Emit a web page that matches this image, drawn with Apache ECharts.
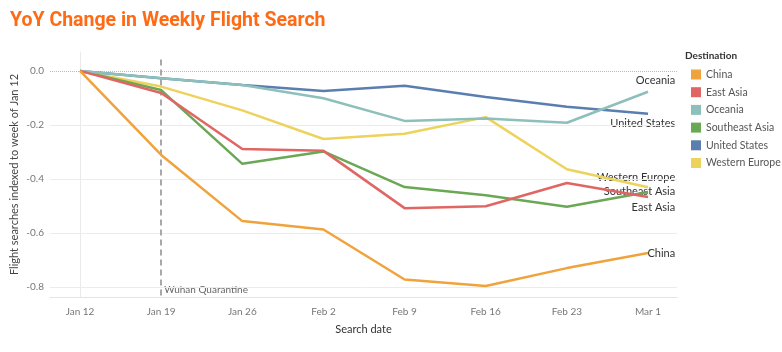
<!DOCTYPE html>
<html lang="en">
<head>
    <meta charset="UTF-8">
    <title>YoY Change in Weekly Flight Search</title>
    <style>
        html,body{margin:0;padding:0;background:#fff;}
        #chart{width:782px;height:352px;}
    </style>
</head>
<body>
    <div id="chart"></div>
    <script src="https://cdn.jsdelivr.net/npm/echarts@6/dist/echarts.min.js"></script>
    <script>
        let dates=['Jan 12','Jan 19','Jan 26','Feb 2','Feb 9','Feb 16','Feb 23','Mar 1'];
        let yTicks=[0,-0.2,-0.4,-0.6,-0.8];
        let names=['China','East Asia','Oceania','Southeast Asia','United States','Western Europe'];
        let china=[0,-0.311,-0.556,-0.587,-0.772,-0.796,-0.730,-0.674];
        let eastAsia=[0,-0.082,-0.289,-0.296,-0.508,-0.501,-0.415,-0.467];
        let oceania=[0,-0.027,-0.052,-0.101,-0.185,-0.176,-0.192,-0.077];
        let southeastAsia=[0,-0.071,-0.344,-0.298,-0.430,-0.460,-0.503,-0.448];
        let unitedStates=[0,-0.027,-0.052,-0.074,-0.055,-0.097,-0.133,-0.159];
        let westernEurope=[0,-0.058,-0.146,-0.252,-0.233,-0.171,-0.364,-0.431];
        let quarantineWeek=1;

        let values=[china,eastAsia,oceania,southeastAsia,unitedStates,westernEurope];
        let colors=['#F0A33C','#E06663','#8DC0BB','#6AA855','#5A7EAF','#EDD25C'];
        // label offset (px) of the end label, relative to last point
        let labelDy=[0,10,-11,0,10,-10];

        let chart=echarts.init(document.getElementById('chart'));
        let font='Lato';

        let series=names.map((name,i)=>{
            return {
                name,
                type:'line',
                symbol:'none',
                color:colors[i],
                lineStyle:{width:2.5},
                z:10-i,
                data:values[i].map((v,j)=>[j,v]),
            };
        });
        // gridlines + quarantine marker on an empty helper series
        series.push({
            type:'line',
            data:[],
            silent:true,
            markLine:{
                symbol:'none',
                silent:true,
                animation:false,
                label:{show:false},
                data:yTicks.map((t)=>({
                    yAxis:t,
                    lineStyle:{color:t===0?'#bbb':'#ececec',type:t===0?'dotted':'solid',width:1},
                })).concat([[
                    {coord:[quarantineWeek,0.042],lineStyle:{color:'#a8a8a8',type:[6,4],width:2}},
                    {coord:[quarantineWeek,-0.837]},
                ]]),
            },
        });

        let option={
            animation:false,
            title:{
                text:'YoY Change in Weekly Flight Search',
                left:5,
                top:6,
                textStyle:{fontFamily:'Roboto',fontWeight:'bold',fontSize:19.5,color:'#FF6A14'},
            },
            grid:{left:50,right:105,top:52,bottom:55,outerBoundsMode:'none'},
            legend:{
                data:names,
                orient:'vertical',
                left:686,
                top:64,
                icon:'rect',
                itemWidth:10,
                itemHeight:10,
                itemGap:6.7,
                textStyle:{fontFamily:font,fontSize:10.5,color:'#555'},
            },
            xAxis:{
                type:'value',
                min:-0.37,
                max:7.357,
                name:'Search date',
                nameLocation:'middle',
                nameGap:27,
                nameMoveOverlap:false,
                nameTextStyle:{fontFamily:font,fontSize:11,color:'#333'},
                axisLine:{onZero:false,lineStyle:{color:'#e4e4e4'}},
                axisTick:{show:false},
                splitLine:{show:false},
                axisLabel:{
                    customValues:dates.map((d,i)=>i),
                    formatter:(v)=>dates[Math.round(v)],
                    fontFamily:font,fontSize:10,color:'#777',margin:10,
                },
            },
            yAxis:{
                type:'value',
                min:-0.837,
                max:0.07,
                name:'Flight searches indexed to week of Jan 12',
                nameLocation:'middle',
                nameGap:30,
                nameMoveOverlap:false,
                nameTextStyle:{fontFamily:font,fontSize:11,color:'#444'},
                axisLine:{show:true,lineStyle:{color:'#eaeaea'}},
                axisTick:{show:false},
                splitLine:{show:false},
                axisLabel:{
                    customValues:yTicks,
                    formatter:(v)=>v.toFixed(1),
                    fontFamily:font,fontSize:10,color:'#777',margin:6,
                },
            },
            series,
        };
        chart.setOption(option);

        // end-of-line labels, right aligned to the plot edge
        let graphics=[{
            type:'text',
            left:685,
            top:51,
            style:{text:'Destination',font:'bold 10px '+font,fill:'#333'},
        }];
        let rightEdge=chart.convertToPixel({xAxisIndex:0},7.335);
        names.forEach((name,i)=>{
            let last=values[i].length-1;
            let p=chart.convertToPixel({gridIndex:0},[last,values[i][last]]);
            graphics.push({
                type:'text',
                x:rightEdge,
                y:p[1]+labelDy[i],
                style:{text:name,font:'11px '+font,fill:'#333',align:'right',verticalAlign:'middle'},
            });
        });
        let q=chart.convertToPixel({gridIndex:0},[quarantineWeek,-0.8]);
        graphics.push({
            type:'text',
            x:q[0]+3,
            y:q[1]+3,
            style:{text:'Wuhan Quarantine',font:'10px '+font,fill:'#666',verticalAlign:'middle'},
        });
        chart.setOption({graphic:graphics});
    </script>
</body>
</html>
